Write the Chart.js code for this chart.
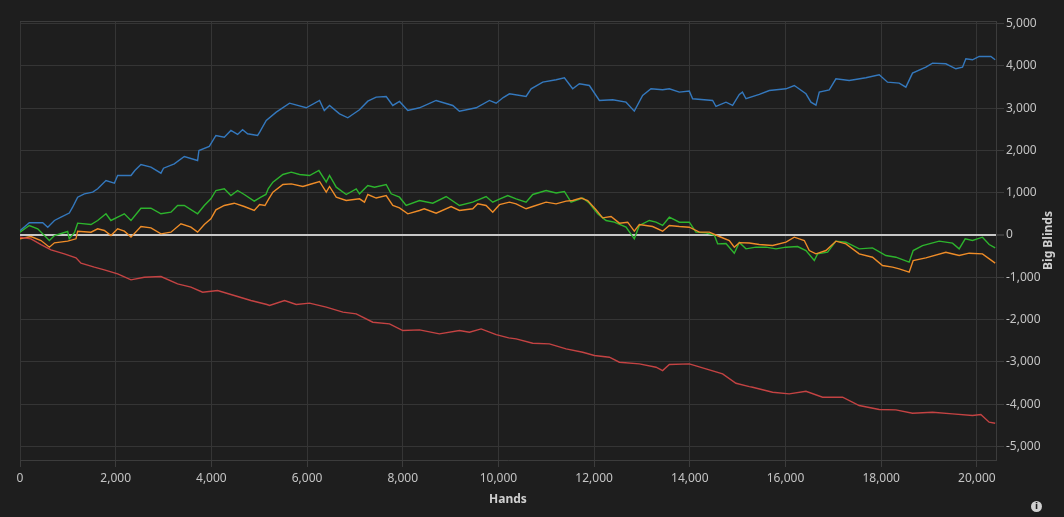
<!DOCTYPE html>
<html>
<head>
<meta charset="utf-8">
<script src="https://cdn.jsdelivr.net/npm/chart.js@4.4.1/dist/chart.umd.min.js"></script>
<style>
  html, body { margin: 0; padding: 0; background: #1e1e1e; }
  #wrap { position: relative; width: 1064px; height: 517px; }
  #info {
    position: absolute; left: 1031px; top: 501px; width: 11px; height: 11px;
    border-radius: 50%; background: #d0d0d0; color: #1e1e1e;
    font: bold 9px "DejaVu Sans", sans-serif; line-height: 11px; text-align: center;
  }
</style>
</head>
<body>
<div id="wrap">
  <canvas id="graph" width="1064" height="517"></canvas>
  <span id="info">i</span>
</div>
<script>
'use strict';

// hand counts and big-blind totals, one pair of lists per player line
const blueHands = [0, 195, 475, 580, 720, 857, 1030, 1100, 1205, 1345, 1520, 1623, 1797, 1972, 2041, 2320, 2400, 2528, 2737, 2946, 3000, 3225, 3434, 3712, 3740, 3956, 4095, 4270, 4408, 4548, 4652, 4757, 4966, 5010, 5147, 5356, 5634, 5983, 6261, 6360, 6470, 6679, 6852, 7096, 7270, 7445, 7654, 7792, 7932, 8106, 8350, 8698, 9046, 9185, 9534, 9812, 9952, 10100, 10230, 10578, 10683, 10926, 11205, 11379, 11552, 11692, 11901, 12110, 12388, 12667, 12840, 13014, 13189, 13432, 13572, 13781, 13990, 14059, 14477, 14547, 14756, 14895, 15035, 15100, 15174, 15453, 15662, 16010, 16184, 16428, 16532, 16637, 16706, 16915, 17054, 17332, 17681, 17959, 18133, 18377, 18516, 18655, 18934, 19073, 19352, 19561, 19700, 19770, 19909, 20048, 20292, 20383]
const blueBB = [100, 290, 290, 185, 343, 421, 520, 657, 894, 973, 1012, 1092, 1289, 1225, 1407, 1407, 1525, 1667, 1604, 1462, 1580, 1684, 1856, 1762, 1998, 2093, 2353, 2313, 2471, 2377, 2488, 2393, 2353, 2431, 2708, 2904, 3117, 3008, 3181, 2944, 3063, 2866, 2771, 2960, 3165, 3260, 3275, 3063, 3157, 2944, 3008, 3181, 3063, 2928, 3008, 3181, 3117, 3250, 3339, 3275, 3457, 3614, 3670, 3717, 3457, 3575, 3535, 3181, 3197, 3141, 2928, 3299, 3457, 3433, 3457, 3378, 3402, 3221, 3181, 3039, 3141, 3063, 3323, 3378, 3221, 3323, 3417, 3457, 3535, 3339, 3141, 3070, 3378, 3433, 3693, 3654, 3717, 3788, 3614, 3590, 3496, 3827, 3969, 4063, 4049, 3930, 3969, 4167, 4143, 4222, 4222, 4143]

const greenHands = [0, 195, 370, 614, 720, 996, 1030, 1140, 1205, 1484, 1623, 1797, 1900, 2041, 2181, 2320, 2528, 2737, 2946, 3155, 3294, 3434, 3712, 3852, 3990, 4095, 4270, 4408, 4548, 4687, 4896, 5035, 5140, 5190, 5286, 5495, 5670, 5843, 6052, 6247, 6401, 6470, 6610, 6819, 7028, 7096, 7270, 7410, 7654, 7758, 7932, 8071, 8350, 8628, 8907, 9185, 9463, 9742, 9881, 10021, 10195, 10370, 10578, 10717, 10996, 11205, 11379, 11518, 11762, 11901, 12075, 12249, 12423, 12667, 12840, 12945, 13154, 13294, 13432, 13572, 13781, 13990, 14129, 14338, 14512, 14582, 14756, 14930, 15035, 15174, 15383, 15592, 15801, 16010, 16253, 16428, 16602, 16671, 16880, 17054, 17263, 17541, 17819, 18098, 18307, 18585, 18669, 18864, 19213, 19491, 19630, 19756, 19909, 20117, 20257, 20383]
const greenBB = [67, 225, 146, -130, -12, 83, -90, 60, 280, 248, 343, 501, 343, 421, 501, 343, 634, 634, 501, 540, 698, 698, 501, 698, 856, 1052, 1092, 934, 1052, 958, 800, 895, 960, 1100, 1249, 1431, 1486, 1431, 1407, 1525, 1249, 1407, 1131, 958, 1092, 974, 1170, 1131, 1194, 974, 894, 698, 816, 752, 910, 698, 776, 910, 776, 850, 934, 856, 776, 958, 1052, 992, 1030, 776, 874, 752, 501, 343, 303, 185, -90, 225, 343, 303, 225, 421, 303, 303, 67, 51, 0, -209, -200, -430, -178, -327, -288, -288, -327, -288, -272, -367, -603, -445, -407, -146, -170, -327, -304, -485, -525, -643, -367, -249, -146, -193, -327, -90, -130, -52, -225, -304]

const orangeHands = [0, 230, 439, 614, 720, 996, 1170, 1205, 1484, 1623, 1763, 1901, 2041, 2181, 2320, 2528, 2737, 2946, 3155, 3364, 3573, 3712, 3852, 3990, 4095, 4270, 4478, 4687, 4896, 5007, 5120, 5200, 5286, 5495, 5670, 5913, 6052, 6261, 6401, 6470, 6610, 6819, 7096, 7200, 7270, 7445, 7654, 7792, 7932, 8106, 8350, 8450, 8698, 9011, 9185, 9463, 9568, 9742, 9881, 10021, 10230, 10370, 10578, 10717, 10996, 11205, 11414, 11552, 11727, 11866, 12040, 12179, 12354, 12528, 12701, 12840, 12945, 13223, 13432, 13572, 13781, 13990, 14199, 14408, 14617, 14826, 14930, 15035, 15244, 15453, 15731, 16010, 16184, 16393, 16497, 16637, 16846, 17054, 17263, 17541, 17819, 18028, 18237, 18377, 18585, 18669, 18934, 19352, 19630, 19839, 20117, 20383]
const orangeBB = [-90, -35, -130, -288, -185, -146, -90, 90, 67, 146, 106, -12, 146, 90, -50, 200, 170, 27, 67, 264, 185, 67, 248, 382, 596, 698, 752, 674, 580, 720, 698, 856, 1012, 1194, 1209, 1147, 1194, 1265, 1012, 1147, 894, 816, 856, 776, 958, 874, 934, 698, 643, 501, 580, 620, 516, 674, 580, 620, 737, 698, 540, 717, 776, 737, 620, 674, 776, 737, 800, 816, 874, 816, 596, 406, 437, 280, 303, 90, 248, 200, 90, 225, 200, 185, 67, 67, -35, -130, -288, -180, -190, -225, -249, -170, -52, -130, -367, -445, -367, -146, -209, -445, -525, -721, -760, -800, -879, -603, -540, -407, -485, -430, -445, -665]

const redHands = [0, 230, 439, 648, 927, 1170, 1275, 1554, 1763, 2041, 2320, 2598, 2946, 3294, 3573, 3817, 4130, 4478, 4826, 5160, 5216, 5530, 5774, 6052, 6401, 6749, 7028, 7374, 7723, 8001, 8350, 8767, 9185, 9394, 9638, 9952, 10215, 10370, 10717, 11065, 11414, 11762, 12006, 12319, 12528, 12945, 13294, 13432, 13572, 13990, 14338, 14686, 14965, 15244, 15313, 15731, 16079, 16428, 16776, 17193, 17541, 17959, 18307, 18655, 19073, 19491, 19909, 20083, 20257, 20383]
const redBB = [-52, -90, -225, -351, -445, -540, -666, -760, -823, -918, -1060, -1000, -981, -1155, -1232, -1352, -1313, -1431, -1549, -1644, -1667, -1549, -1644, -1612, -1706, -1825, -1864, -2062, -2101, -2259, -2243, -2338, -2259, -2298, -2220, -2354, -2433, -2456, -2559, -2575, -2693, -2772, -2850, -2890, -3008, -3047, -3126, -3205, -3063, -3047, -3166, -3284, -3505, -3584, -3599, -3718, -3757, -3694, -3836, -3836, -4032, -4127, -4135, -4214, -4190, -4230, -4269, -4245, -4426, -4450]

const xTicks = [0, 2000, 4000, 6000, 8000, 10000, 12000, 14000, 16000, 18000, 20000]
const yTicks = [-5000, -4000, -3000, -2000, -1000, 0, 1000, 2000, 3000, 4000, 5000]

const zip = (hands, bb) => hands.map((h, i) => ({ x: h, y: bb[i] }))

const line = (data, color) => ({
	data,
	borderColor: color,
	borderWidth: 1.4,
	pointRadius: 0,
	tension: 0,
	fill: false,
})

const frame = {
	id: 'frame',
	afterDraw(chart) {
		let { ctx, chartArea: a } = chart
		ctx.save()
		ctx.strokeStyle = '#3c3c3c'
		ctx.lineWidth = 1
		ctx.beginPath()
		ctx.moveTo(a.left, a.top + 0.5)
		ctx.lineTo(a.right, a.top + 0.5)
		ctx.stroke()
		// y title reads bottom to top
		ctx.fillStyle = '#d0d0d0'
		ctx.font = 'bold 12px "Noto Sans", sans-serif'
		ctx.textAlign = 'center'
		ctx.textBaseline = 'middle'
		ctx.translate(1049, (a.top + a.bottom) / 2)
		ctx.rotate(-Math.PI / 2)
		ctx.fillText('Big Blinds', 0, 0)
		ctx.restore()
	}
}

Chart.defaults.font.family = '"Noto Sans", sans-serif'
Chart.defaults.font.size = 12
Chart.defaults.color = '#c4c4c4'

new Chart(document.getElementById('graph'), {
	type: 'line',
	data: {
		datasets: [
			line(zip(redHands, redBB), '#c44343'),
			line(zip(orangeHands, orangeBB), '#ee8c28'),
			line(zip(greenHands, greenBB), '#2db42d'),
			line(zip(blueHands, blueBB), '#3478bd'),
		]
	},
	options: {
		responsive: false,
		animation: false,
		locale: 'en-US',
		layout: { padding: { left: 20, top: 21, right: 0, bottom: 0 } },
		plugins: { legend: { display: false }, tooltip: { enabled: false } },
		scales: {
			x: {
				type: 'linear',
				min: 0,
				max: 20400,
				afterBuildTicks: s => { s.ticks = xTicks.map(v => ({ value: v })) },
				afterFit: s => { s.height = 57 },
				grid: { color: '#353535', tickColor: '#3c3c3c', tickLength: 7 },
				border: { color: '#3c3c3c' },
				ticks: { maxRotation: 0, padding: 4 },
				title: {
					display: true,
					text: 'Hands',
					color: '#d0d0d0',
					font: { weight: 'bold', size: 12 },
					padding: { top: 0, bottom: 10 },
				},
			},
			y: {
				position: 'right',
				min: -5320,
				max: 5060,
				afterBuildTicks: s => { s.ticks = yTicks.map(v => ({ value: v })) },
				afterFit: s => { s.width = 68 },
				grid: {
					color: c => c.tick && c.tick.value === 0 ? '#c8c8c8' : '#353535',
					lineWidth: c => c.tick && c.tick.value === 0 ? 2 : 1,
					tickColor: '#3c3c3c',
					tickLength: 8,
				},
				border: { color: '#3c3c3c' },
				ticks: { padding: 2 },
			},
		},
	},
	plugins: [frame],
})
</script>
</body>
</html>
